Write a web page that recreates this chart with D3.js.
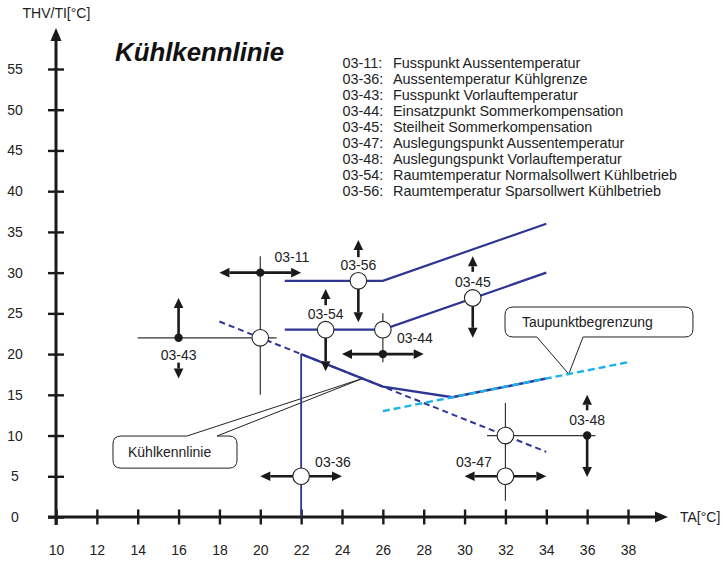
<!DOCTYPE html>
<html>
<head>
<meta charset="utf-8">
<script src="https://cdn.jsdelivr.net/npm/d3@7"></script>
<style>
  html, body { margin: 0; padding: 0; background: #fff; }
  svg { display: block; font-family: Arial, "Liberation Sans", Helvetica, sans-serif; }
</style>
</head>
<body>
<svg id="chart" width="724" height="561"></svg>
<script>
// ---------- data ----------
const xTicks = [10, 12, 14, 16, 18, 20, 22, 24, 26, 28, 30, 32, 34, 36, 38];
const yTicks = [0, 5, 10, 15, 20, 25, 30, 35, 40, 45, 50, 55];

const legendCodes = ["03-11:", "03-36:", "03-43:", "03-44:", "03-45:", "03-47:", "03-48:", "03-54:", "03-56:"];
const legendTexts = [
  "Fusspunkt Aussentemperatur",
  "Aussentemperatur Kühlgrenze",
  "Fusspunkt Vorlauftemperatur",
  "Einsatzpunkt Sommerkompensation",
  "Steilheit Sommerkompensation",
  "Auslegungspunkt Aussentemperatur",
  "Auslegungspunkt Vorlauftemperatur",
  "Raumtemperatur Normalsollwert Kühlbetrieb",
  "Raumtemperatur Sparsollwert Kühlbetrieb"
];

// curves [TA, THV/TI]
const normalLine = [[21.2, 23], [26, 23], [34, 30]];      // 03-54 Normalsollwert
const sparLine = [[21.2, 29], [26, 29], [34, 36]];        // 03-56 Sparsollwert
const kuehlLine = [[22, 20], [26, 16], [29.4, 14.7], [34, 17]];
const kuehlDashed = [[18, 24], [34, 8]];
const taupunktLine = [[26, 13], [38, 19]];
const grenzLine = [[22, 0], [22, 20]];                    // 03-36

// parameter points
const openPoints = [[20, 22], [24.8, 29], [23.2, 23], [26, 23], [30.4, 26.9], [22, 5], [32, 10], [32, 5]];
const dotPoints = [[20, 30], [16, 22], [26, 20], [36, 10]];

// thin guide lines [from, to]
const guideLines = [
  [[20, 32], [20, 15]],
  [[14, 22], [20.8, 22]],
  [[26, 25], [26, 19]],
  [[32, 14], [32, 2]],
  [[31.1, 10], [36.4, 10]]
];

// arrows [from, to, double-headed]
const arrows = [
  [[18, 30], [22, 30], true],
  [[16, 22], [16, 26.9], false],
  [[16, 18.95], [16, 17.0], false],
  [[24.8, 31.9], [24.8, 34.0], false],
  [[24.8, 29], [24.8, 23.9], false],
  [[23.2, 26.0], [23.2, 28.0], false],
  [[23.2, 23], [23.2, 17.9], false],
  [[24, 20], [28, 20], true],
  [[30.4, 30.1], [30.4, 32.0], false],
  [[30.4, 26.9], [30.4, 22.0], false],
  [[20, 5], [24, 5], true],
  [[30, 5], [34, 5], true],
  [[36, 13.1], [36, 15.0], false],
  [[36, 10], [36, 4.9], false]
];

// parameter labels [text, TA, THV]
const paramLabels = [
  ["03-11", 21.55, 31.9],
  ["03-56", 24.8, 30.9],
  ["03-54", 23.2, 24.9],
  ["03-44", 27.57, 22.0],
  ["03-45", 30.41, 28.85],
  ["03-43", 16, 19.9],
  ["03-36", 23.56, 6.75],
  ["03-47", 30.46, 6.75],
  ["03-48", 36, 11.9]
];

// callouts: text, box [x0, x1, yTop, yBottom], pointer base xs, tip
const callouts = [
  { text: "Kühlkennlinie", box: [12.79, 18.86, 9.94, 6.0], edge: "top", base: [16.41, 17.88], tip: [25, 17] },
  { text: "Taupunktbegrenzung", box: [31.98, 41.18, 25.78, 22.1], edge: "bottom", base: [33.54, 35.8], tip: [35.1, 17.55] }
];

// ---------- drawing ----------
const svg = d3.select("#chart");
const x = d3.scaleLinear().domain([10, 38]).range([56, 628]);
const y = d3.scaleLinear().domain([0, 55]).range([517, 69]);

const darkBlue = "#2e3593";
const cyan = "#1ab2ea";
const ink = "#1a1a1a";

function arrowHead(g, x1, y1, x2, y2, len, half, color) {
  const a = Math.atan2(y2 - y1, x2 - x1);
  const bx = x2 - len * Math.cos(a), by = y2 - len * Math.sin(a);
  const px = -Math.sin(a) * half, py = Math.cos(a) * half;
  g.append("path")
    .attr("d", `M${x2},${y2}L${bx + px},${by + py}L${bx - px},${by - py}Z`)
    .attr("fill", color);
  return [bx, by];
}

// axes
const axisG = svg.append("g");
const gx = axisG.append("g").attr("transform", `translate(0,${y(0)})`)
  .call(d3.axisBottom(x).tickValues(xTicks).tickSize(0).tickPadding(28).tickFormat(d3.format("d")));
gx.select(".domain").remove();
gx.selectAll(".tick line").attr("y1", -7.5).attr("y2", 7.5).attr("stroke", ink).attr("stroke-width", 2.4);
gx.selectAll(".tick text").attr("font-size", 14).attr("fill", "#222").attr("font-family", "Arial, 'Liberation Sans', sans-serif");

const gy = axisG.append("g").attr("transform", `translate(${x(10)},0)`)
  .call(d3.axisLeft(y).tickValues(yTicks).tickSize(0).tickPadding(41).tickFormat(d3.format("d")));
gy.select(".domain").remove();
gy.selectAll(".tick line").attr("x1", -8).attr("x2", 8).attr("stroke", ink).attr("stroke-width", 2.4);
gy.selectAll(".tick text").attr("text-anchor", "middle").attr("font-size", 14).attr("fill", "#222")
  .attr("font-family", "Arial, 'Liberation Sans', sans-serif");

// axis lines with arrows
{
  const xEnd = 668, yTop = 28;
  const [bx] = arrowHead(axisG, x(10), y(0), xEnd, y(0), 13, 5.5, ink);
  axisG.append("line").attr("x1", 48).attr("x2", bx + 1).attr("y1", y(0)).attr("y2", y(0))
    .attr("stroke", ink).attr("stroke-width", 3);
  const [, by] = arrowHead(axisG, x(10), y(0), x(10), yTop, 13, 5.5, ink);
  axisG.append("line").attr("x1", x(10)).attr("x2", x(10)).attr("y1", 525).attr("y2", by - 1)
    .attr("stroke", ink).attr("stroke-width", 3);
  axisG.append("text").attr("x", 680).attr("y", 521.5).attr("font-size", 14).attr("fill", "#222").text("TA[°C]");
  axisG.append("text").attr("x", 22.5).attr("y", 17.5).attr("font-size", 14).attr("fill", "#222").text("THV/TI[°C]");
}

// title
svg.append("text").attr("x", 115).attr("y", 61).attr("font-size", 25.8).attr("font-weight", "bold")
  .attr("font-style", "italic").attr("fill", "#111").text("Kühlkennlinie");

// legend
const legG = svg.append("g").attr("font-size", 14.4).attr("fill", "#222");
legendCodes.forEach((c, i) => {
  legG.append("text").attr("x", 342.5).attr("y", 67.5 + i * 16).text(c);
  legG.append("text").attr("x", 393).attr("y", 67.5 + i * 16).text(legendTexts[i]);
});

const line = d3.line().x(d => x(d[0])).y(d => y(d[1]));

// guide lines (thin)
const guideG = svg.append("g");
guideLines.forEach(([a, b]) => {
  guideG.append("line").attr("x1", x(a[0])).attr("y1", y(a[1])).attr("x2", x(b[0])).attr("y2", y(b[1]))
    .attr("stroke", "#333").attr("stroke-width", 1.2);
});

// callouts
callouts.forEach(c => {
  const [x0, x1, yt, yb] = [x(c.box[0]), x(c.box[1]), y(c.box[2]), y(c.box[3])];
  const r = 8;
  const b1 = x(c.base[0]), b2 = x(c.base[1]);
  const tx = x(c.tip[0]), ty = y(c.tip[1]);
  let d;
  if (c.edge === "top") {
    d = `M${b1},${yt}L${tx},${ty}L${b2},${yt}L${x1 - r},${yt}Q${x1},${yt} ${x1},${yt + r}L${x1},${yb - r}` +
        `Q${x1},${yb} ${x1 - r},${yb}L${x0 + r},${yb}Q${x0},${yb} ${x0},${yb - r}L${x0},${yt + r}Q${x0},${yt} ${x0 + r},${yt}Z`;
  } else {
    d = `M${b2},${yb}L${tx},${ty}L${b1},${yb}L${x0 + r},${yb}Q${x0},${yb} ${x0},${yb - r}L${x0},${yt + r}` +
        `Q${x0},${yt} ${x0 + r},${yt}L${x1 - r},${yt}Q${x1},${yt} ${x1},${yt + r}L${x1},${yb - r}Q${x1},${yb} ${x1 - r},${yb}Z`;
  }
  svg.append("path").attr("d", d).attr("fill", "none").attr("stroke", "#222").attr("stroke-width", 1);
  svg.append("text").attr("x", x0 + (c.edge === "top" ? 15 : 17)).attr("y", (yt + yb) / 2).attr("dy", "0.35em")
    .attr("font-size", 14).attr("fill", "#222").text(c.text);
});

// curves
const curveG = svg.append("g").attr("fill", "none");
curveG.append("path").attr("d", line(grenzLine)).attr("stroke", darkBlue).attr("stroke-width", 1.8);
curveG.append("path").attr("d", line(kuehlDashed)).attr("stroke", darkBlue).attr("stroke-width", 2).attr("stroke-dasharray", "6,4");
curveG.append("path").attr("d", line(kuehlLine)).attr("stroke", darkBlue).attr("stroke-width", 2.4);
curveG.append("path").attr("d", line(taupunktLine)).attr("stroke", cyan).attr("stroke-width", 2.4).attr("stroke-dasharray", "7,4");
curveG.append("path").attr("d", line(normalLine)).attr("stroke", darkBlue).attr("stroke-width", 2.2);
curveG.append("path").attr("d", line(sparLine)).attr("stroke", darkBlue).attr("stroke-width", 2.2);

// arrows
const arrowG = svg.append("g");
arrows.forEach(([a, b, dbl]) => {
  let x1 = x(a[0]), y1 = y(a[1]), x2 = x(b[0]), y2 = y(b[1]);
  const [ex, ey] = arrowHead(arrowG, x1, y1, x2, y2, 10, 4.8, ink);
  let sx = x1, sy = y1;
  if (dbl) { [sx, sy] = arrowHead(arrowG, x2, y2, x1, y1, 10, 4.8, ink); }
  arrowG.append("line").attr("x1", sx).attr("y1", sy).attr("x2", ex).attr("y2", ey)
    .attr("stroke", ink).attr("stroke-width", 2.6);
});

// points
svg.append("g").selectAll("circle").data(openPoints).join("circle")
  .attr("cx", d => x(d[0])).attr("cy", d => y(d[1])).attr("r", 8.3)
  .attr("fill", "#fff").attr("stroke", "#222").attr("stroke-width", 1.1);
svg.append("g").selectAll("circle").data(dotPoints).join("circle")
  .attr("cx", d => x(d[0])).attr("cy", d => y(d[1])).attr("r", 4.2).attr("fill", ink);

// parameter labels
svg.append("g").selectAll("text").data(paramLabels).join("text")
  .attr("x", d => x(d[1])).attr("y", d => y(d[2])).attr("dy", "0.35em")
  .attr("text-anchor", "middle").attr("font-size", 14).attr("fill", "#222").text(d => d[0]);
</script>
</body>
</html>
